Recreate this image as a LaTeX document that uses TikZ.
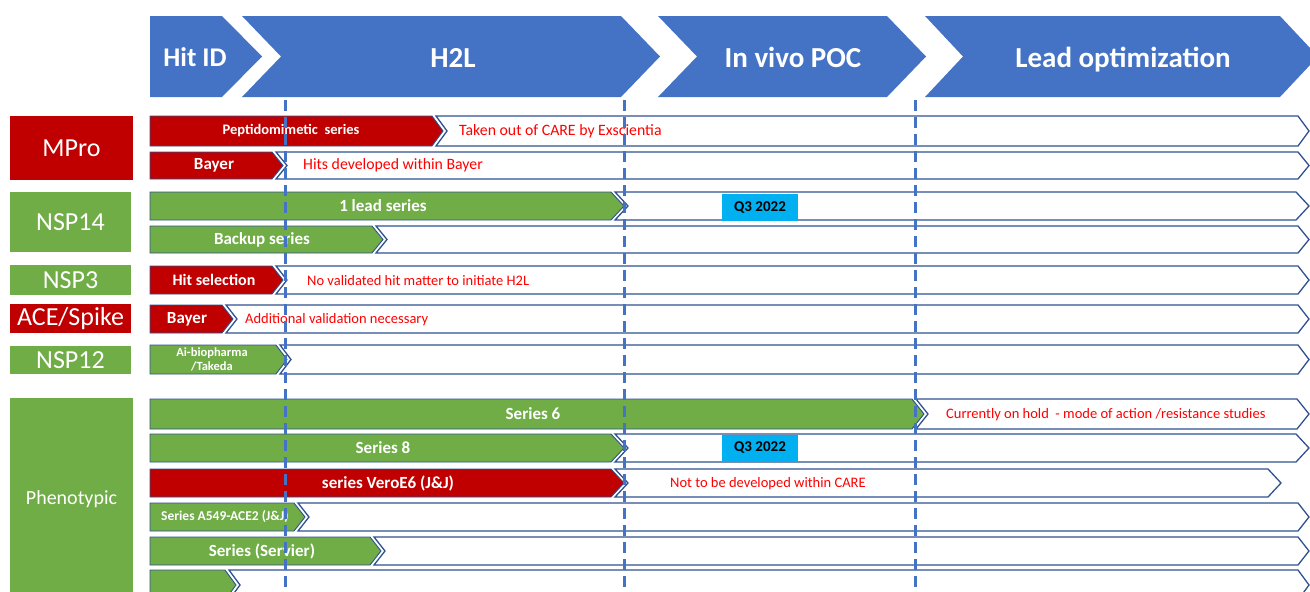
\documentclass[tikz,border=0pt]{standalone}
\usepackage{fontspec}
\setmainfont{Carlito}
\definecolor{hblue}{HTML}{4472C4}
\definecolor{edge}{HTML}{2F528F}
\definecolor{cred}{HTML}{C00000}
\definecolor{cgreen}{HTML}{70AD47}
\definecolor{cnote}{HTML}{FF0000}
\definecolor{ccyan}{HTML}{00B0F0}
% solid chevron: style, left x, tip x, top y, bottom y, tip depth
\newcommand\solidchev[6]{%
  \path[#1] (#2,#4) -- ({#3-#6},#4) -- (#3,{(#4+#5)/2}) -- ({#3-#6},#5) -- (#2,#5) -- cycle;}
% notched chevron: style, left x, tip x, top y, bottom y, depth
\newcommand\notchchev[6]{%
  \path[#1] (#2,#4) -- ({#3-#6},#4) -- (#3,{(#4+#5)/2}) -- ({#3-#6},#5) -- (#2,#5) -- ({#2+#6},{(#4+#5)/2}) -- cycle;}
% progress row: bar style, tip x, top y, bottom y, depth, track end x
\newcommand\progrow[6]{%
  \solidchev{#1}{150}{#2}{#3}{#4}{#5}%
  \notchchev{track}{\fpeval{#2-#5+4}}{#6}{#3}{#4}{#5}}
\begin{document}
\begin{tikzpicture}[x=1pt,y=-1pt,
  hdr/.style={fill=hblue},
  bar/.style={draw=edge,line width=0.9pt},
  redbar/.style={bar,fill=cred},
  grnbar/.style={bar,fill=cgreen},
  track/.style={draw=edge,line width=1.3pt,fill=white},
  hdrtext/.style={text=white,font=\bfseries\fontsize{29}{31}\selectfont},
  bartext/.style={text=white,inner sep=0,font=\bfseries\fontsize{17}{19}\selectfont},
  note/.style={text=cnote,anchor=west,inner sep=0,font=\fontsize{14.5}{16}\selectfont},
  bignote/.style={note,font=\fontsize{15.8}{17}\selectfont},
  side/.style={text=white,inner sep=0,font=\fontsize{26}{28}\selectfont},
  quarter/.style={fill=ccyan,inner sep=0,minimum width=76pt,minimum height=27pt,
    font=\bfseries\fontsize{15}{17}\selectfont},
  guide/.style={draw=hblue,line width=3pt,dash pattern=on 11pt off 6pt}]
\useasboundingbox (0,0) rectangle (1310,592);
\clip (0,0) rectangle (1310,592);

% phase header
\path[hdr] (150,16) -- (222,16) -- (262,56.5) -- (222,97) -- (150,97) -- cycle;
\notchchev{hdr}{242}{660}{16}{97}{39}
\notchchev{hdr}{658}{926}{16}{97}{39}
\notchchev{hdr}{925}{1318}{16}{97}{38}
\node[hdrtext,font=\bfseries\fontsize{27}{29}\selectfont] (hHit) at (195,57.5) {Hit ID};
\node[hdrtext] (hH2L) at (453,57.5) {H2L};
\node[hdrtext] (hPOC) at (793,57.5) {In vivo POC};
\node[hdrtext] (hLO) at (1123,59.5) {Lead optimization};

% target labels
\node[side,fill=cred,minimum width=123pt,minimum height=64pt] (tMPro) at (71.5,148) {MPro};
\node[side,fill=cgreen,minimum width=121pt,minimum height=60pt] (tNSP14) at (70.5,222) {NSP14};
\node[side,fill=cgreen,minimum width=121pt,minimum height=30pt] (tNSP3) at (70.5,280) {NSP3};
\node[side,fill=cred,minimum width=121pt,minimum height=29pt] (tACE) at (70.5,318.5) {ACE/Spike};
\node[side,fill=cgreen,minimum width=121pt,minimum height=28pt] (tNSP12) at (70.5,360) {NSP12};
\node[side,fill=cgreen,minimum width=123pt,minimum height=202pt,font=\fontsize{20}{22}\selectfont] (tPheno) at (71.5,499) {Phenotypic};

% progress rows
\progrow{redbar}{443}{116}{146}{11}{1309}
\node[bartext,font=\bfseries\fontsize{14.5}{16}\selectfont] (b1) at (291,131) {Peptidomimetic\ \ series};
\node[bignote] (n1) at (459,131) {Taken out of CARE by Exscientia};

\progrow{redbar}{283}{152}{179}{11}{1309}
\node[bartext] (b2) at (214,165.5) {Bayer};
\node[bignote] (n2) at (303,165.5) {Hits developed within Bayer};

\progrow{grnbar}{624}{192}{220}{13}{1309}
\node[bartext] (b3) at (383,206) {1 lead series};
\node[quarter] (q1) at (760,207.5) {Q3 2022};

\progrow{grnbar}{383}{226}{253}{11}{1309}
\node[bartext] (b4) at (262,239.5) {Backup series};

\progrow{redbar}{283}{266}{294}{11}{1309}
\node[bartext,font=\bfseries\fontsize{16}{18}\selectfont] (b5) at (214,280) {Hit selection};
\node[note] (n5) at (307,280.5) {No validated hit matter to initiate H2L};

\progrow{redbar}{233}{305}{333}{11}{1309}
\node[bartext] (b6) at (187,319) {Bayer};
\node[note] (n6) at (245,319.5) {Additional validation necessary};

\progrow{grnbar}{287}{345}{374}{11}{1309}
\node[bartext,align=center,font=\bfseries\fontsize{12.5}{14}\selectfont] (b7) at (212,359.5) {Ai-biopharma\\/Takeda};

\progrow{grnbar}{924}{399}{429}{12}{1309}
\node[bartext] (b8) at (533,414) {Series 6};
\node[note] (n8) at (946,414.5) {Currently on hold\ \ - mode of action /resistance studies};

\progrow{grnbar}{624}{434}{462}{13}{1309}
\node[bartext] (b9) at (383,448) {Series 8};
\node[quarter] (q2) at (760,448) {Q3 2022};

\progrow{redbar}{624}{469}{497}{13}{1281}
\node[bartext] (b10) at (388,483) {series VeroE6 (J\&J)};
\node[note] (n10) at (670,483.5) {Not to be developed within CARE};

\solidchev{grnbar}{150}{305}{503}{531}{11}
\node[bartext,anchor=west,font=\bfseries\fontsize{13.5}{15}\selectfont] (b11) at (161,517) {Series A549-ACE2 (J\&J)};
\notchchev{track}{298}{1309}{503}{531}{11}

\progrow{grnbar}{381}{537}{565}{11}{1309}
\node[bartext] (b12) at (262,551) {Series (Servier)};

\progrow{grnbar}{236}{570}{600}{11}{1309}

% stage boundaries
\coordinate (g1t) at (285,100); \coordinate (g1b) at (285,592);
\coordinate (g2t) at (624,100); \coordinate (g2b) at (624,592);
\coordinate (g3t) at (915,100); \coordinate (g3b) at (915,592);
\draw[guide] (g1t) -- (g1b);
\draw[guide] (g2t) -- (g2b);
\draw[guide] (g3t) -- (g3b);
\end{tikzpicture}
\end{document}
